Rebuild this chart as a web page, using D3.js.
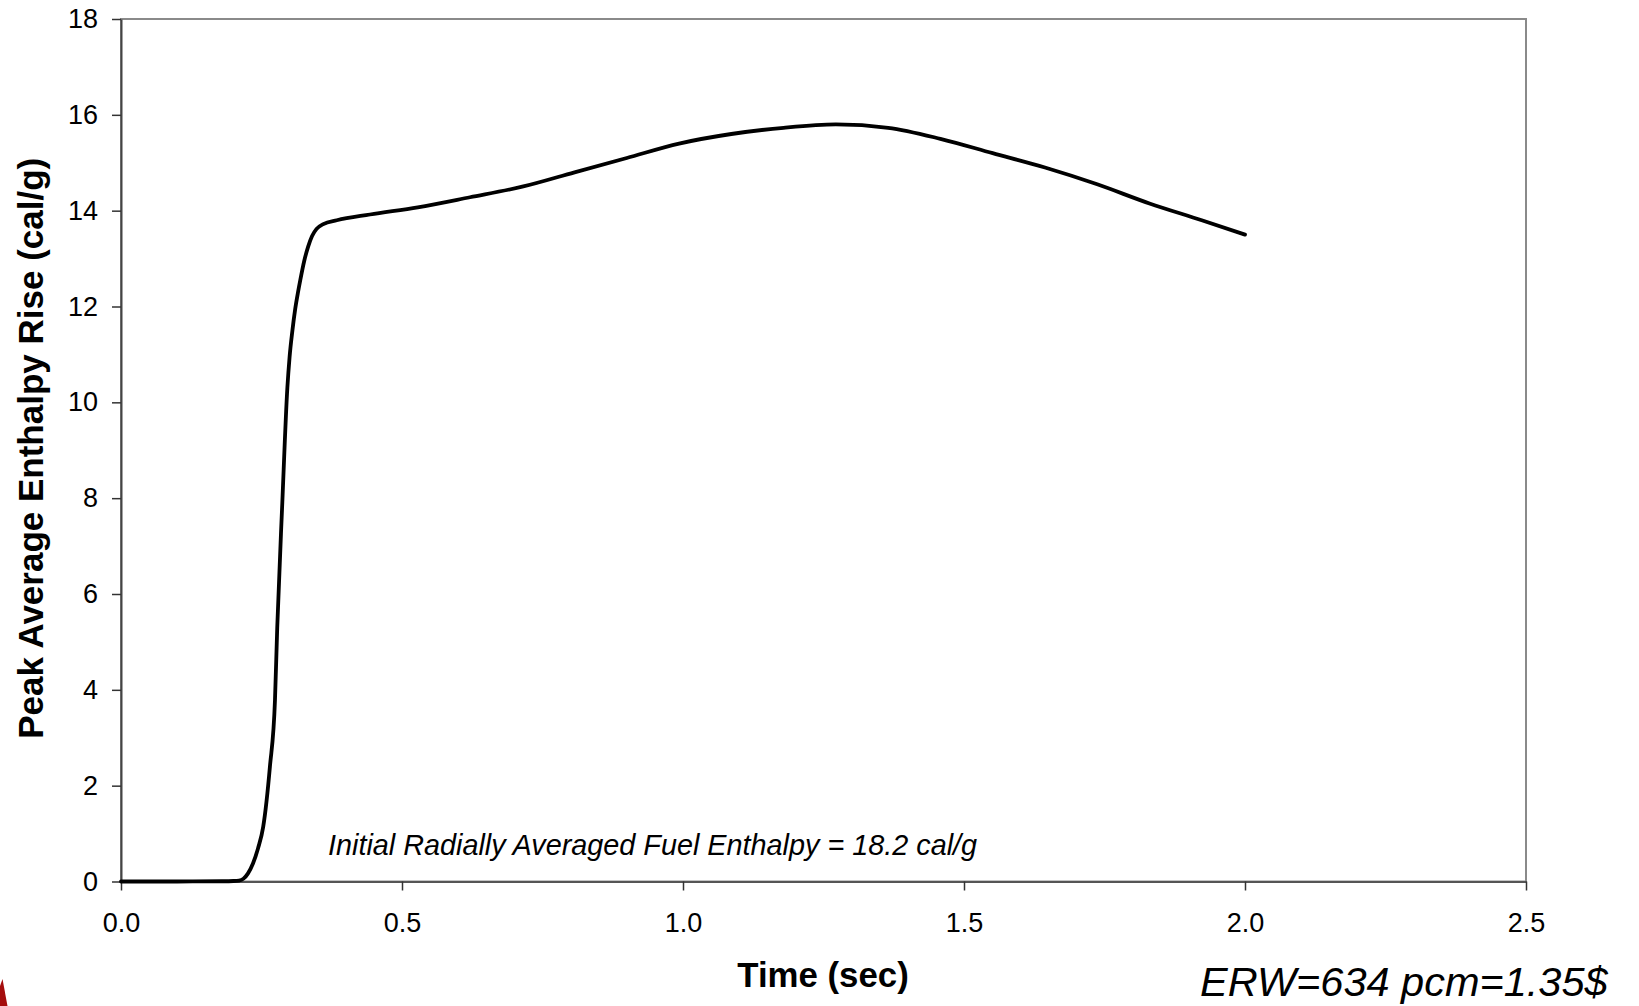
<!DOCTYPE html>
<html>
<head>
<meta charset="utf-8">
<script src="https://cdn.jsdelivr.net/npm/d3@7"></script>
<style>
  html, body { margin: 0; padding: 0; background: #fff; }
  svg { display: block; }
  text { font-family: "Liberation Sans", Arial, sans-serif; fill: #000; }
</style>
</head>
<body>
<svg id="chart" width="1639" height="1006"></svg>
<script>
// ---- data ----
const timeSec = [0, 0.10, 0.18, 0.20, 0.210, 0.218, 0.226, 0.235, 0.244, 0.253, 0.265, 0.274, 0.278, 0.287, 0.296, 0.300, 0.305, 0.310, 0.315, 0.319, 0.326, 0.333, 0.340, 0.348, 0.360, 0.384, 0.443, 0.528, 0.621, 0.714, 0.807, 0.900, 0.993, 1.086, 1.179, 1.272, 1.365, 1.458, 1.551, 1.644, 1.737, 1.830, 1.923, 2.000];
const enthalpyRise = [0, 0, 0.005, 0.01, 0.02, 0.06, 0.17, 0.38, 0.7, 1.14, 2.4, 3.79, 5.3, 7.9, 10.3, 10.95, 11.5, 11.95, 12.3, 12.55, 12.95, 13.25, 13.47, 13.62, 13.72, 13.8, 13.92, 14.07, 14.28, 14.5, 14.8, 15.1, 15.4, 15.6, 15.73, 15.8, 15.73, 15.5, 15.2, 14.9, 14.55, 14.15, 13.8, 13.5];
const xTicks = [0, 0.5, 1.0, 1.5, 2.0, 2.5];
const yTicks = [0, 2, 4, 6, 8, 10, 12, 14, 16, 18];
const xTitle = "Time (sec)";
const yTitle = "Peak Average Enthalpy Rise (cal/g)";
const noteText = "Initial Radially Averaged Fuel Enthalpy = 18.2 cal/g";
const erwText = "ERW=634 pcm=1.35$";

// ---- layout ----
const svg = d3.select("#chart");
const pLeft = 121, pRight = 1526, pTop = 19, pBottom = 881.5;

const x = d3.scaleLinear().domain([0, 2.5]).range([pLeft, pRight]);
const y = d3.scaleLinear().domain([0, 18]).range([pBottom, pTop]);

// decorative red corner mark
svg.append("path")
  .attr("d", "M0,986 L2.5,979 L7.5,1006 L0,1006 Z")
  .attr("fill", "#a50d0d");

// frame (top/right border)
svg.append("rect")
  .attr("x", pLeft).attr("y", pTop)
  .attr("width", pRight - pLeft).attr("height", pBottom - pTop)
  .attr("fill", "none").attr("stroke", "#8a8a8a").attr("stroke-width", 2);

// axes
const xAxis = d3.axisBottom(x).tickValues(xTicks).tickFormat(d3.format(".1f"))
  .tickSize(9).tickPadding(22).tickSizeOuter(0);
const gx = svg.append("g").attr("transform", `translate(0,${pBottom})`).call(xAxis);
gx.select(".domain").attr("stroke", "#555").attr("stroke-width", 2);
gx.selectAll(".tick line").attr("stroke", "#333").attr("stroke-width", 1.5);
gx.selectAll(".tick text").attr("font-size", 27).attr("font-family", "Liberation Sans, Arial, sans-serif").attr("fill", "#000");

const yAxis = d3.axisLeft(y).tickValues(yTicks).tickFormat(d3.format("d"))
  .tickSize(9).tickPadding(14).tickSizeOuter(0);
const gy = svg.append("g").attr("transform", `translate(${pLeft},0)`).call(yAxis);
gy.select(".domain").attr("stroke", "#444").attr("stroke-width", 2);
gy.selectAll(".tick line").attr("stroke", "#333").attr("stroke-width", 1.5);
gy.selectAll(".tick text").attr("font-size", 27).attr("font-family", "Liberation Sans, Arial, sans-serif").attr("fill", "#000");

// curve
const pts = timeSec.map((t, i) => [t, enthalpyRise[i]]);
svg.append("path")
  .datum(pts)
  .attr("fill", "none")
  .attr("stroke", "#000")
  .attr("stroke-width", 3.8)
  .attr("stroke-linejoin", "round")
  .attr("stroke-linecap", "round")
  .attr("d", d3.line().x(d => x(d[0])).y(d => y(d[1])).curve(d3.curveMonotoneX));

// titles
svg.append("text")
  .attr("x", 823).attr("y", 987)
  .attr("text-anchor", "middle")
  .attr("font-size", 34.8).attr("font-weight", "bold")
  .text(xTitle);

svg.append("text")
  .attr("transform", `translate(43,${(pTop + pBottom) / 2 - 2}) rotate(-90)`)
  .attr("text-anchor", "middle")
  .attr("font-size", 35).attr("font-weight", "bold")
  .text(yTitle);

// annotations
svg.append("text")
  .attr("x", 328).attr("y", 855)
  .attr("font-size", 28.8).attr("font-style", "italic")
  .text(noteText);

svg.append("text")
  .attr("x", 1200).attr("y", 996)
  .attr("font-size", 41.5).attr("font-style", "italic")
  .text(erwText);
</script>
</body>
</html>
